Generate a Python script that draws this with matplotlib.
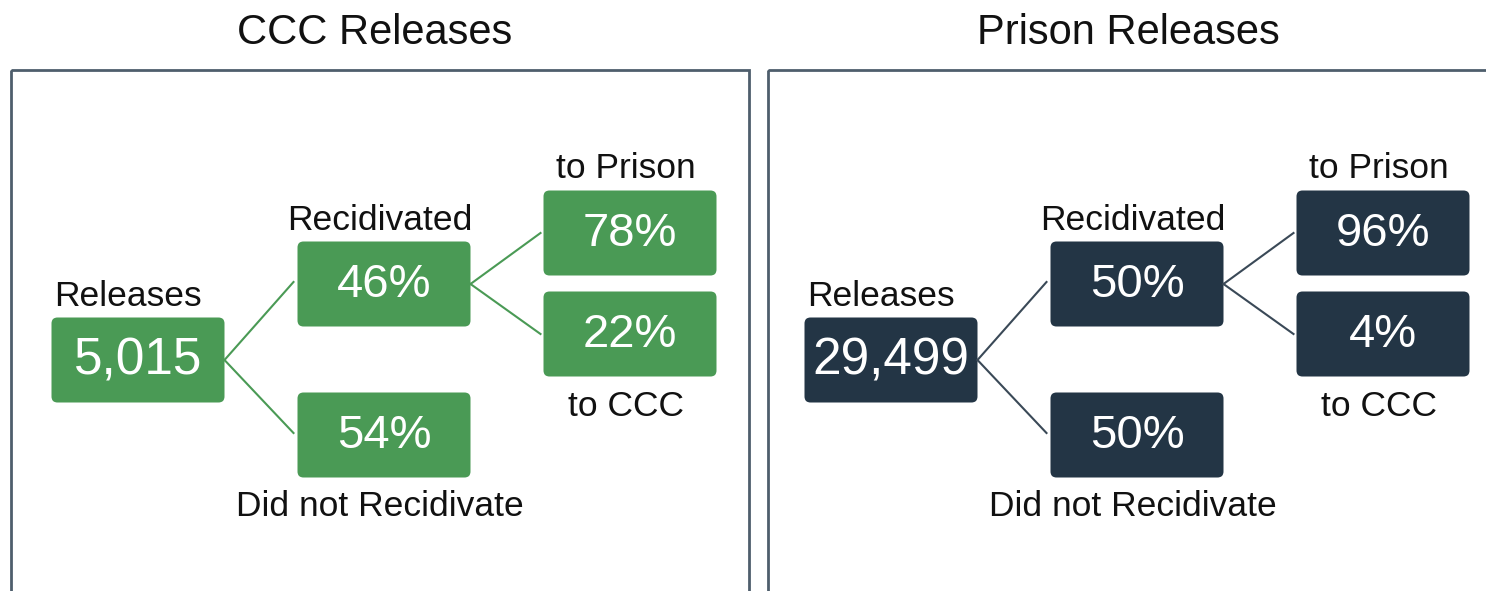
import matplotlib.pyplot as plt
from matplotlib.patches import FancyBboxPatch, Rectangle

plt.rcParams['font.family'] = ['Liberation Sans', 'DejaVu Sans']

titles = ["CCC Releases", "Prison Releases"]
releases = [5015, 29499]
recidivated = [46, 50]
not_recidivated = [54, 50]
to_prison = [78, 96]
to_ccc = [22, 4]
box_colors = ['#4a9a55', '#233545']
line_colors = ['#4a9a55', '#3a4957']

fig = plt.figure(figsize=(14.86, 5.91), dpi=100)
ax = fig.add_axes([0, 0, 1, 1])
ax.set_xlim(0, 1486)
ax.set_ylim(591, 0)
ax.axis('off')

# node layout (center x, center y, width) relative to panel
W = 173
H = 85
node_pos = {
    'root': (138, 360),
    'rec': (384, 284),
    'not': (384, 435),
    'pri': (630, 233),
    'ccc': (630, 334),
}


def node(x, y, text, color, size):
    ax.add_patch(FancyBboxPatch((x - W / 2, y - H / 2), W, H,
                                boxstyle="round,pad=0,rounding_size=6",
                                fc=color, ec='none'))
    ax.text(x, y + 1, text, color='white', fontsize=size,
            ha='center', va='center')


for i in range(2):
    ox = i * 753
    col = box_colors[i]
    lc = line_colors[i]

    # panel frame
    ax.add_patch(Rectangle((11 + ox + i * 4, 70), 738, 560, fill=False,
                           ec='#4e5e6c', lw=2))
    ax.text(375 + ox, 44, titles[i], fontsize=30, ha='center',
            va='baseline', color='#111111')

    rx, ry = node_pos['root']
    mx, my = node_pos['rec']
    nx, ny = node_pos['not']
    px, py = node_pos['pri']
    cx, cy = node_pos['ccc']

    # connectors
    ax.plot([rx + W / 2 + ox, mx - W / 2 - 4 + ox], [ry, my - 2], color=lc, lw=1.5)
    ax.plot([rx + W / 2 + ox, nx - W / 2 - 4 + ox], [ry, ny - 2], color=lc, lw=1.5)
    ax.plot([mx + W / 2 + ox, px - W / 2 - 3 + ox], [my, py], color=lc, lw=1.5)
    ax.plot([mx + W / 2 + ox, cx - W / 2 - 3 + ox], [my, cy], color=lc, lw=1.5)

    node(rx + ox, ry, f"{releases[i]:,}", col, 37)
    node(mx + ox, my, f"{recidivated[i]}%", col, 34)
    node(nx + ox, ny, f"{not_recidivated[i]}%", col, 34)
    node(px + ox, py, f"{to_prison[i]}%", col, 34)
    node(cx + ox, cy, f"{to_ccc[i]}%", col, 34)

    lab = dict(fontsize=25.5, ha='center', va='baseline', color='#111111')
    ax.text(rx - 10 + ox, ry - H / 2 - 12, "Releases", **lab)
    ax.text(mx - 4 + ox, my - H / 2 - 12, "Recidivated", **lab)
    ax.text(px - 4 + ox, py - H / 2 - 12, "to Prison", **lab)
    ax.text(cx - 4 + ox, cy + H / 2 + 40, "to CCC", **lab)
    ax.text(nx - 4 + ox, ny + H / 2 + 39, "Did not Recidivate", **lab)

fig.savefig('out.png', dpi=100)
